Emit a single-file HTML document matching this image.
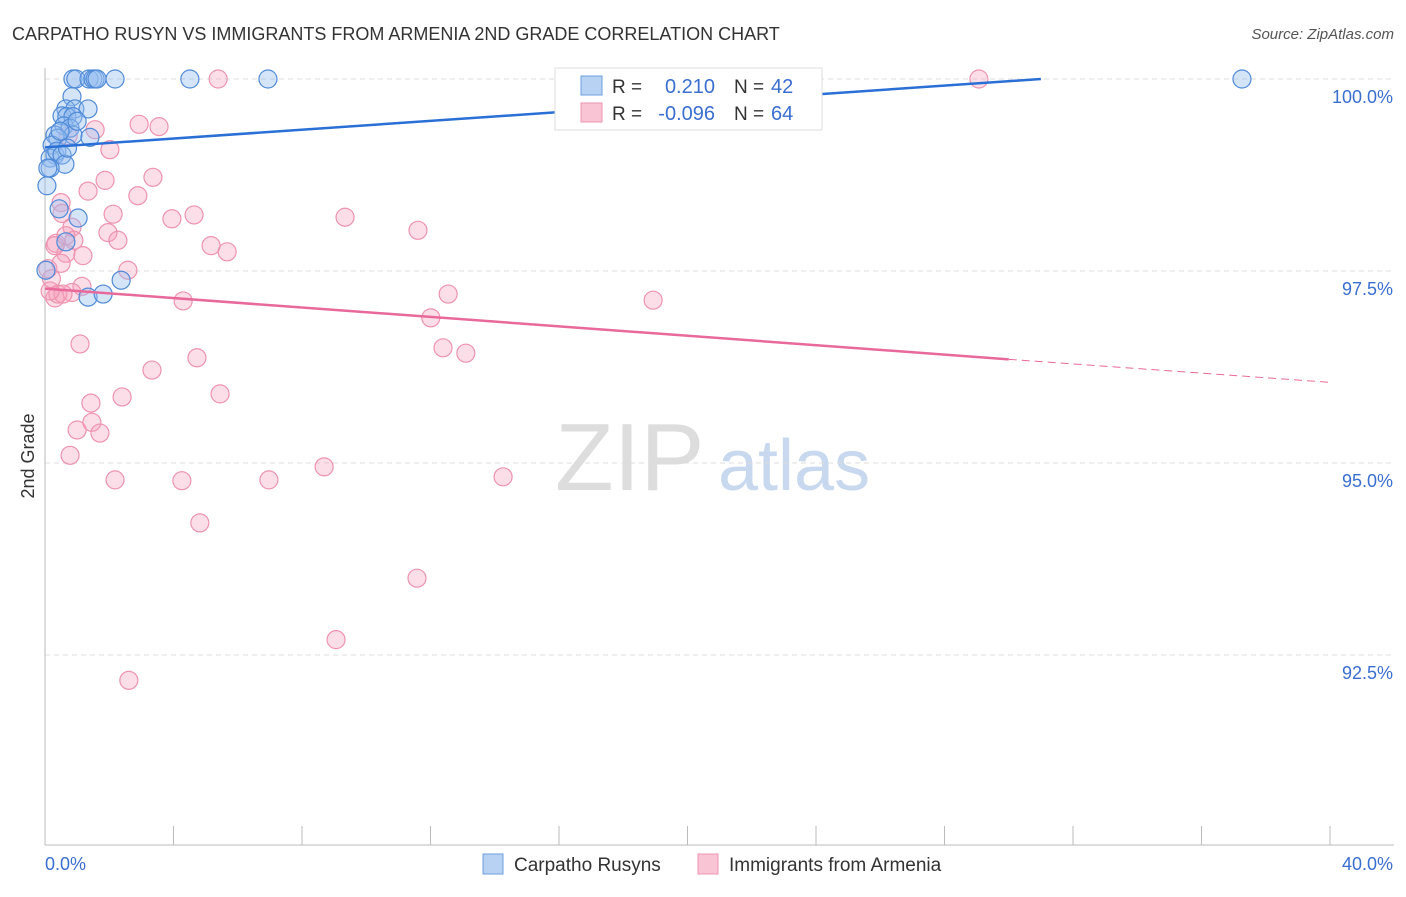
<!DOCTYPE html>
<html><head><meta charset="utf-8"><style>
body{margin:0;background:#fff;font-family:"Liberation Sans",sans-serif;}
svg text{font-family:"Liberation Sans",sans-serif;}
</style></head><body>
<svg id="chart" width="1406" height="892" xmlns="http://www.w3.org/2000/svg">
<text x="12" y="40" font-size="18" fill="#333">CARPATHO RUSYN VS IMMIGRANTS FROM ARMENIA 2ND GRADE CORRELATION CHART</text>
<text x="1394" y="39" font-size="15" fill="#555" text-anchor="end" font-style="italic">Source: ZipAtlas.com</text>
<text x="555" y="490" font-size="96" fill="#ddd" font-family="Liberation Serif">ZIP</text>
<text x="718" y="490" font-size="72" fill="#c8d8ee">atlas</text>
<g id="grid"></g><g id="axes"></g><g id="pts"></g><g id="trend"></g>
<text transform="translate(34,456) rotate(-90)" font-size="18" fill="#333" text-anchor="middle">2nd Grade</text>
<g>
<rect x="555" y="68" width="267" height="62" fill="#fff" stroke="#ddd"/>
<rect x="581" y="76" width="21" height="19" fill="#b8d2f4" stroke="#6d9fe0"/>
<rect x="581" y="103" width="21" height="19" fill="#f9c4d4" stroke="#ee93b0"/>
<text x="612" y="93" font-size="19" fill="#333">R =</text><text x="715" y="93" font-size="20" fill="#3a6fd1" text-anchor="end">0.210</text>
<text x="734" y="93" font-size="19" fill="#333">N =</text><text x="771" y="93" font-size="20" fill="#3a6fd1">42</text>
<text x="612" y="120" font-size="19" fill="#333">R =</text><text x="715" y="120" font-size="20" fill="#3a6fd1" text-anchor="end">-0.096</text>
<text x="734" y="120" font-size="19" fill="#333">N =</text><text x="771" y="120" font-size="20" fill="#3a6fd1">64</text>
</g>
<g>
<rect x="483" y="854" width="20" height="20" fill="#b8d2f4" stroke="#6d9fe0"/>
<text x="514" y="871" font-size="19" fill="#333">Carpatho Rusyns</text>
<rect x="698" y="854" width="20" height="20" fill="#f9c4d4" stroke="#ee93b0"/>
<text x="729" y="871" font-size="19" fill="#333">Immigrants from Armenia</text>
</g>
</svg>
<script>
const blueX=[0.87,0.96,1.37,1.49,1.56,1.62,2.18,4.51,6.94,37.26,0.84,0.65,0.93,1.34,0.53,0.68,0.87,0.59,0.78,0.87,1.40,0.31,0.40,0.22,0.31,0.16,0.37,0.53,0.62,0.16,0.06,0.44,1.03,0.65,0.03,1.34,1.81,2.37,0.09,0.47,1.0,0.7];
const blueY=[100,100,100,100,100,100,100,100,100,100,99.77,99.61,99.61,99.61,99.52,99.51,99.51,99.39,99.36,99.27,99.24,99.27,99.23,99.14,99.01,98.97,99.06,99.01,98.89,98.84,98.61,98.31,98.19,97.88,97.51,97.16,97.2,97.38,98.84,99.32,99.45,99.1];
const pinkX=[5.39,29.07,2.93,3.55,1.56,2.02,0.72,0.50,1.34,1.87,2.89,3.36,2.12,3.95,4.64,1.96,2.27,5.17,5.67,0.53,0.84,0.34,0.65,0.31,1.18,2.58,0.65,9.34,11.61,1.15,0.84,0.31,0.40,0.56,4.30,12.55,18.93,12.01,1.09,4.73,3.33,12.39,13.10,2.40,5.45,1.43,1.00,1.46,1.71,0.78,2.18,4.26,6.97,8.69,14.26,4.82,11.58,9.06,2.61,0.09,0.16,0.2,0.9,0.5];
const pinkY=[100,100,99.41,99.38,99.34,99.08,99.26,98.39,98.54,98.68,98.48,98.72,98.24,98.18,98.23,98.0,97.9,97.83,97.75,98.25,98.07,97.86,97.73,97.83,97.7,97.51,97.96,98.2,98.03,97.3,97.22,97.15,97.2,97.2,97.11,97.2,97.12,96.89,96.55,96.37,96.21,96.5,96.43,95.86,95.9,95.78,95.43,95.53,95.39,95.1,94.78,94.77,94.78,94.95,94.82,94.22,93.5,92.7,92.17,97.53,97.24,97.4,97.9,97.6];
const xTicks=[0,4,8,12,16,20,24,28,32,36,40];
const yTicks=[100,97.5,95,92.5];
const yTickLabels=["100.0%","97.5%","95.0%","92.5%"];
const blueTrend=[[0,99.11],[31,100]];
const pinkTrend=[[0,97.27],[30,96.35]];
const pinkDash=[[30,96.35],[40,96.05]];
const X=v=>45+v/40*1285, Y=v=>79+(100-v)*76.8;
const NS="http://www.w3.org/2000/svg";
function mk(t,a,p){const e=document.createElementNS(NS,t);for(const k in a)e.setAttribute(k,a[k]);p.appendChild(e);return e;}
const g=document.getElementById('grid'),ax=document.getElementById('axes'),pts=document.getElementById('pts'),tr=document.getElementById('trend');
yTicks.forEach((t,i)=>{const l=mk('line',{x1:45,x2:1394,y1:Y(t),y2:Y(t),stroke:'#ddd','stroke-dasharray':'5,4'},g);


const tx=mk('text',{x:1393,y:Y(t)+24,'font-size':18,fill:'#3a6fd1','text-anchor':'end'},ax);tx.textContent=yTickLabels[i];

});
const xl=mk('line',{x1:45,x2:1394,y1:845,y2:845,stroke:'#bbb'},ax);


const yl=mk('line',{x1:45,x2:45,y1:68,y2:845,stroke:'#bbb'},ax);


xTicks.forEach(t=>{const l=mk('line',{x1:X(t),x2:X(t),y1:826,y2:845,stroke:'#bbb'},ax);

});
const x0=mk('text',{x:45,y:870,'font-size':18,fill:'#3a6fd1'},ax);x0.textContent='0.0%';


const x1=mk('text',{x:1393,y:870,'font-size':18,fill:'#3a6fd1','text-anchor':'end'},ax);x1.textContent='40.0%';


pinkX.forEach((v,i)=>{const c=mk('circle',{cx:X(v),cy:Y(pinkY[i]),r:9,fill:'rgba(245,160,190,0.35)',stroke:'#ee93b0','stroke-width':1.2},pts);

});
blueX.forEach((v,i)=>{const c=mk('circle',{cx:X(v),cy:Y(blueY[i]),r:9,fill:'rgba(150,190,240,0.4)',stroke:'#4f8ad8','stroke-width':1.2},pts);

});
const bl=mk('line',{x1:X(blueTrend[0][0]),y1:Y(blueTrend[0][1]),x2:X(blueTrend[1][0]),y2:Y(blueTrend[1][1]),stroke:'#2a6fd6','stroke-width':2.5},tr);


const pl=mk('line',{x1:X(pinkTrend[0][0]),y1:Y(pinkTrend[0][1]),x2:X(pinkTrend[1][0]),y2:Y(pinkTrend[1][1]),stroke:'#e8699a','stroke-width':2.5},tr);


const pd=mk('line',{x1:X(pinkDash[0][0]),y1:Y(pinkDash[0][1]),x2:X(pinkDash[1][0]),y2:Y(pinkDash[1][1]),stroke:'#e8699a','stroke-width':1,'stroke-dasharray':'8,5'},tr);


</script>
</body></html>
